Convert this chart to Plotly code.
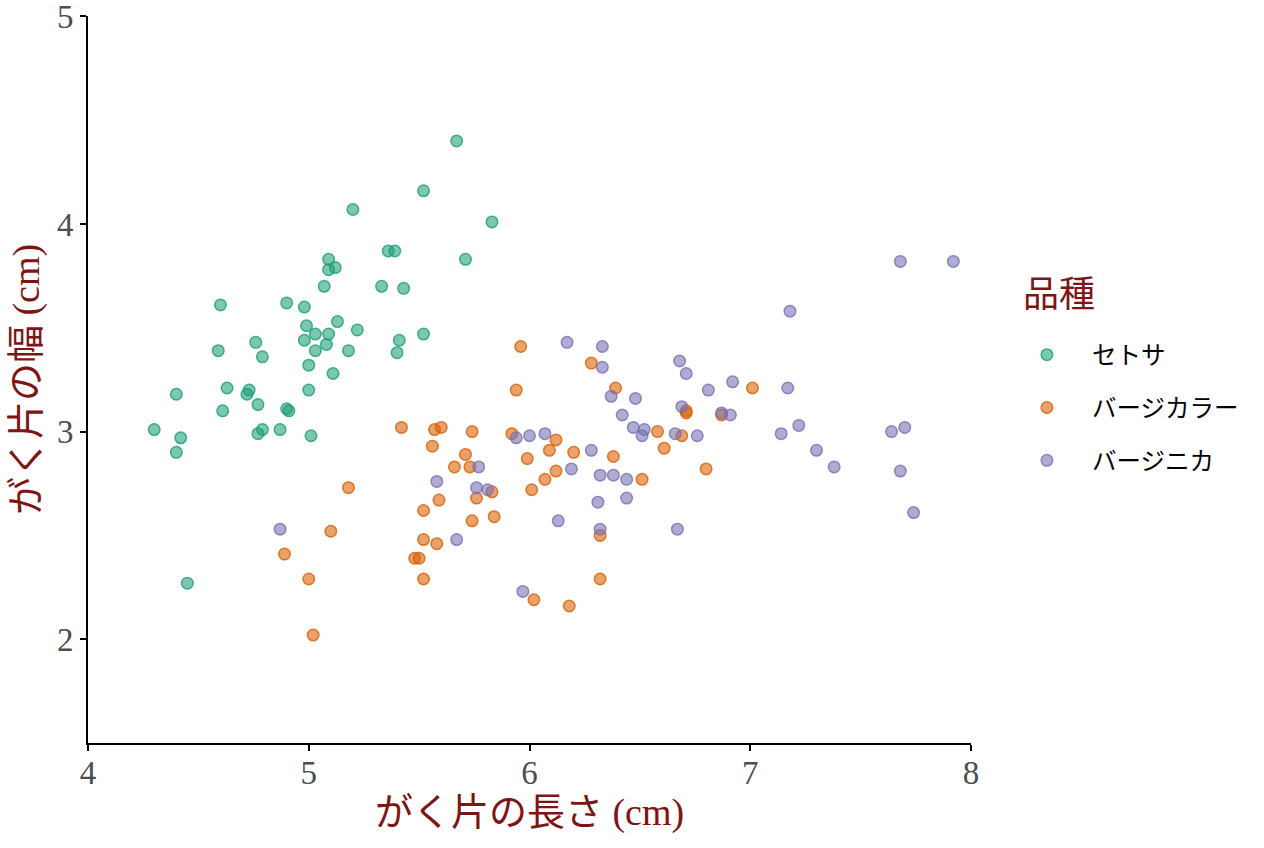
import plotly.graph_objects as go

# がく片の長さ / 幅 (cm) — 画像から読み取った値
setosa_x = [5.67, 5.52, 5.20, 5.83, 5.36, 5.39, 5.71, 5.09, 5.09, 5.12, 5.07, 5.33, 5.43,
            4.60, 4.90, 4.98, 4.99, 5.13, 5.22, 5.03, 5.09, 4.98, 5.08, 5.03, 5.18, 5.41,
            5.40, 5.52, 4.59, 4.76, 4.79, 5.00, 5.11, 4.40, 4.63, 4.73, 4.72, 4.77, 4.61,
            4.90, 4.91, 5.00, 4.30, 4.42, 4.40, 4.79, 4.77, 4.87, 5.01, 4.45]
setosa_y = [4.40, 4.16, 4.07, 4.01, 3.87, 3.87, 3.83, 3.83, 3.78, 3.79, 3.70, 3.70, 3.69,
            3.61, 3.62, 3.60, 3.51, 3.53, 3.49, 3.47, 3.47, 3.44, 3.42, 3.39, 3.39, 3.44,
            3.38, 3.47, 3.39, 3.43, 3.36, 3.32, 3.28, 3.18, 3.21, 3.20, 3.18, 3.13, 3.10,
            3.11, 3.10, 3.20, 3.01, 2.97, 2.90, 3.01, 2.99, 3.01, 2.98, 2.27]

versicolor_x = [5.18, 5.10, 4.89, 5.00, 5.02, 5.48, 5.50, 5.52, 5.52, 5.58, 5.52, 5.59, 5.66,
                5.73, 5.83, 5.76, 5.74, 5.84, 6.02, 6.18, 6.01, 6.07, 6.12, 5.99, 6.32, 6.32,
                5.96, 6.28, 5.94, 7.01, 6.39, 6.58, 6.61, 6.71, 6.71, 6.87, 6.69, 6.80, 5.92,
                6.12, 6.09, 6.20, 6.38, 6.51, 5.42, 5.57, 5.60, 5.74, 5.56, 5.71]
versicolor_y = [2.73, 2.52, 2.41, 2.29, 2.02, 2.39, 2.39, 2.29, 2.48, 2.46, 2.62, 2.67, 2.83,
                2.83, 2.71, 2.68, 2.57, 2.59, 2.19, 2.16, 2.72, 2.77, 2.81, 2.87, 2.50, 2.29,
                3.41, 3.33, 3.20, 3.21, 3.21, 3.00, 2.92, 3.10, 3.09, 3.08, 2.98, 2.82, 2.99,
                2.96, 2.91, 2.90, 2.88, 2.77, 3.02, 3.01, 3.02, 3.00, 2.93, 2.89]

virginica_x = [4.87, 5.58, 5.77, 5.67, 5.76, 5.81, 5.97, 6.19, 6.13, 6.32, 6.38, 6.31, 6.32,
               6.17, 6.33, 6.33, 6.68, 6.71, 6.81, 6.92, 7.17, 6.37, 6.48, 6.42, 6.47, 6.52,
               6.51, 6.69, 6.87, 6.91, 6.66, 6.76, 7.14, 5.94, 6.00, 6.07, 6.28, 6.44, 6.44,
               6.67, 7.68, 7.92, 7.18, 7.22, 7.30, 7.38, 7.64, 7.70, 7.68, 7.74]
virginica_y = [2.53, 2.76, 2.83, 2.48, 2.73, 2.72, 2.23, 2.82, 2.57, 2.79, 2.79, 2.66, 2.53,
               3.43, 3.41, 3.31, 3.34, 3.28, 3.20, 3.24, 3.21, 3.17, 3.16, 3.08, 3.02, 3.01,
               2.98, 3.12, 3.09, 3.08, 2.99, 2.98, 2.99, 2.97, 2.98, 2.99, 2.91, 2.77, 2.68,
               2.53, 3.82, 3.82, 3.58, 3.03, 2.91, 2.83, 3.00, 3.02, 2.81, 2.61]

species = ["セトサ", "バージカラー", "バージニカ"]
colors = [(27, 158, 119), (217, 95, 2), (117, 112, 179)]

fig = go.Figure()
for name, xs, ys, (r, g, b) in zip(species,
                                   [setosa_x, versicolor_x, virginica_x],
                                   [setosa_y, versicolor_y, virginica_y],
                                   colors):
    fig.add_trace(go.Scatter(
        x=xs, y=ys, mode="markers", name=name, legendgroup=name,
        marker=dict(size=11.5, color=f"rgba({r},{g},{b},0.58)",
                    line=dict(width=1.5, color=f"rgba({r},{g},{b},0.8)")),
    ))

dark_red = "#7F1414"
title_font = dict(family="Liberation Serif, Noto Sans CJK JP", size=38, color=dark_red)
tick_font = dict(family="Liberation Serif", size=33, color="#4D4D4D")

fig.add_annotation(
    text="品種", xref="paper", yref="paper", x=1.057, y=0.622,
    xanchor="left", yanchor="middle", showarrow=False,
    font=dict(family="Noto Sans CJK JP", size=36, color=dark_red),
)

fig.update_layout(
    width=1264, height=848,
    margin=dict(l=88, r=293, t=16, b=105),
    plot_bgcolor="white", paper_bgcolor="white",
    showlegend=True,
    legend=dict(
        font=dict(family="Noto Sans CJK JP", size=24.5, color="black"),
        x=1.035, y=0.565, xanchor="left", yanchor="top",
        tracegroupgap=18, itemwidth=80,
    ),
    xaxis=dict(
        range=[4, 8], tickvals=[4, 5, 6, 7, 8], showgrid=False, zeroline=False,
        showline=True, linecolor="black", linewidth=2,
        ticks="outside", ticklen=6, tickwidth=2, tickcolor="black",
        tickfont=tick_font, ticklabelstandoff=-7, automargin=False,
        title=dict(text="がく片の長さ (cm)", font=title_font, standoff=0),
    ),
    yaxis=dict(
        range=[1.5, 5.002], tickvals=[2, 3, 4, 5], showgrid=False, zeroline=False,
        showline=True, linecolor="black", linewidth=2,
        ticks="outside", ticklen=6, tickwidth=2, tickcolor="black",
        tickfont=tick_font, ticklabeloverflow="allow", automargin=False,
        title=dict(text="がく片の幅 (cm)", font=title_font, standoff=6),
    ),
)

# ページ余白をなくして図をウィンドウの左上に合わせる
fig.write_html("out.html", config={"displayModeBar": False},
               post_script="document.body.style.margin = '0';")
